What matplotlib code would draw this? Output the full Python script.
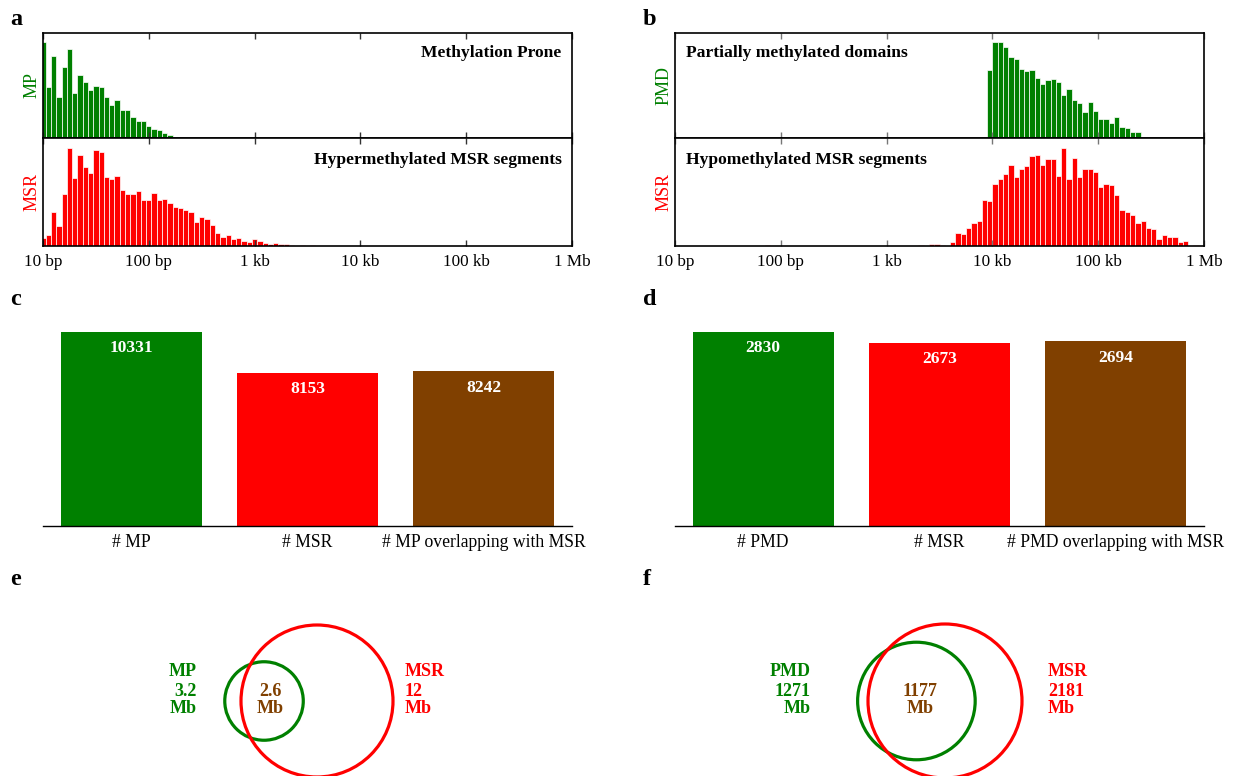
import numpy as np
import matplotlib.pyplot as plt
from matplotlib.patches import Circle

plt.rcParams['font.family'] = ['Liberation Serif', 'DejaVu Serif']

GREEN = '#008000'
RED = '#ff0000'
BROWN = '#804000'

# histogram bins: width 0.05 in log10(length), first left edge given per series
BIN = 0.05
mp_start = 0.975
mp_counts = [290, 152, 247, 122, 214, 268, 136, 190, 169, 145, 157, 152, 124, 100,
             115, 85, 85, 64, 52, 52, 37, 28, 25, 16, 10, 4, 2, 1]
hyper_start = 0.975
hyper_counts = [24, 33, 102, 60, 156, 291, 201, 270, 234, 216, 285, 279, 204, 198,
                207, 165, 156, 156, 162, 138, 138, 159, 138, 141, 129, 117, 114, 108,
                102, 72, 87, 81, 63, 39, 27, 33, 21, 24, 15, 12, 21, 15, 9, 6, 9, 6, 6,
                3, 1, 3, 1, 2, 1, 1, 1, 0, 1, 1, 0, 1, 1]
pmd_start = 3.95
pmd_counts = [205, 290, 290, 274, 244, 238, 208, 202, 205, 181, 163, 175, 178, 169,
              130, 148, 115, 106, 79, 109, 82, 58, 58, 46, 64, 34, 31, 17, 17, 4, 3, 2, 4]
hypo_start = 3.30
hypo_counts = [2, 0, 6, 6, 3, 0, 12, 39, 36, 54, 69, 75, 138, 135,
               183, 198, 213, 240, 204, 228, 237, 267, 270, 240, 258, 258, 207, 291,
               198, 261, 204, 228, 228, 219, 174, 183, 180, 153, 108, 102, 93, 69, 75,
               54, 51, 21, 33, 27, 27, 12, 15, 0, 3]
hypo_stray_start = 1.85
hypo_stray_counts = [3]

size_ticks = [10, 100, 1e3, 1e4, 1e5, 1e6]
size_labels = ['10 bp', '100 bp', '1 kb', '10 kb', '100 kb', '1 Mb']

c_labels = ['# MP', '# MSR', '# MP overlapping with MSR']
c_values = [10331, 8153, 8242]
d_labels = ['# PMD', '# MSR', '# PMD overlapping with MSR']
d_values = [2830, 2673, 2694]

# venn: (left set, right set, overlap) in Mb
e_sets = ['MP', 'MSR']
e_sizes = [3.2, 12, 2.6]
e_text = ['3.2', '12', '2.6']
f_sets = ['PMD', 'MSR']
f_sizes = [1271, 2181, 1177]
f_text = ['1271', '2181', '1177']

W, H = 1233, 776
fig = plt.figure(figsize=(W / 100, H / 100), dpi=100)


def axes_px(x0, y0, x1, y1):
    return fig.add_axes([x0 / W, 1 - y1 / H, (x1 - x0) / W, (y1 - y0) / H])


def hist(ax, start, counts, color, ytop, tick_color):
    left = start + BIN * np.arange(len(counts))
    x0 = 10 ** left
    x1 = 10 ** (left + BIN)
    ax.bar(x0, counts, width=x1 - x0, align='edge', color=color,
           edgecolor='white', linewidth=0.5)
    ax.set_xscale('log')
    ax.set_xlim(10, 1e6)
    ax.set_ylim(0, ytop)
    ax.set_yticks([])
    ax.set_xticks(size_ticks)
    ax.minorticks_off()
    ax.tick_params(axis='x', direction='in', top=True, bottom=True, length=4,
                   width=1, color=tick_color, labelbottom=False)
    for s in ax.spines.values():
        s.set_linewidth(1.2)


def hist_pair(x0, x1, top, bottom, top_lab, bot_lab, top_title, bot_title, right, tick_color):
    ax_t = axes_px(x0, 33, x1, 138)
    ax_b = axes_px(x0, 138, x1, 246)
    hist(ax_t, *top, GREEN, 316, tick_color)
    for st, cn in bottom:
        hist(ax_b, st, cn, RED, 321, tick_color)
    ax_b.tick_params(axis='x', labelbottom=True, labelsize=12.3, pad=6)
    ax_b.set_xticklabels(size_labels)
    ax_t.set_ylabel(top_lab, color=GREEN, fontsize=13, labelpad=2)
    ax_b.set_ylabel(bot_lab, color=RED, fontsize=13, labelpad=2)
    xt, ha = (0.98, 'right') if right else (0.02, 'left')
    ax_t.text(xt, 0.81, top_title, transform=ax_t.transAxes, ha=ha, va='center',
              fontsize=12.6, fontweight='bold')
    ax_b.text(xt, 0.80, bot_title, transform=ax_b.transAxes, ha=ha, va='center',
              fontsize=12.6, fontweight='bold')


hist_pair(43, 572, (mp_start, mp_counts), [(hyper_start, hyper_counts)], 'MP', 'MSR',
          'Methylation Prone', 'Hypermethylated MSR segments', True, '#333333')
hist_pair(675, 1204, (pmd_start, pmd_counts),
          [(hypo_start, hypo_counts), (hypo_stray_start, hypo_stray_counts)],
          'PMD', 'MSR', 'Partially methylated domains', 'Hypomethylated MSR segments',
          False, '#777777')


def count_bars(x0, x1, labels, values):
    ax = axes_px(x0, 320, x1, 526)
    ax.bar(range(3), values, width=0.8, color=[GREEN, RED, BROWN])
    ax.set_xlim(-0.5, 2.5)
    ax.set_ylim(0, values[0] * 206 / 194)
    for s in ['top', 'left', 'right']:
        ax.spines[s].set_visible(False)
    ax.spines['bottom'].set_linewidth(1.0)
    ax.set_yticks([])
    ax.set_xticks(range(3), labels, fontsize=12.7)
    ax.tick_params(axis='x', length=0, pad=6)
    for i, v in enumerate(values):
        ax.annotate(str(v), (i, v), xytext=(0, -6), textcoords='offset points',
                    ha='center', va='top', color='white', fontweight='bold', fontsize=12.5)


count_bars(43, 572, c_labels, c_values)
count_bars(675, 1204, d_labels, d_values)

# overlay in pixel coordinates for venn diagrams and panel letters
ov = fig.add_axes([0, 0, 1, 1])
ov.set_xlim(0, W)
ov.set_ylim(H, 0)
ov.axis('off')


def overlap(r1, r2, d):
    a1 = r1 ** 2 * np.arccos((d * d + r1 * r1 - r2 * r2) / (2 * d * r1))
    a2 = r2 ** 2 * np.arccos((d * d + r2 * r2 - r1 * r1) / (2 * d * r2))
    a3 = 0.5 * np.sqrt((-d + r1 + r2) * (d + r1 - r2) * (d - r1 + r2) * (d + r1 + r2))
    return a1 + a2 - a3


def venn(sets, sizes, texts, cx, cy, R, lx, mx, rx):
    k = R / np.sqrt(sizes[1])
    r = k * np.sqrt(sizes[0])
    target = np.pi * k * k * sizes[2]
    lo, hi = abs(R - r) + 1e-6, R + r - 1e-6
    for _ in range(80):
        mid = (lo + hi) / 2
        if overlap(r, R, mid) > target:
            lo = mid
        else:
            hi = mid
    d = (lo + hi) / 2
    ov.add_patch(Circle((cx - d, cy), r, fill=False, ec=GREEN, lw=2.3, clip_on=False))
    ov.add_patch(Circle((cx, cy), R, fill=False, ec=RED, lw=2.3, clip_on=False))
    kw = dict(fontsize=13, fontweight='bold', linespacing=1.0)
    ov.text(lx, 671, sets[0], color=GREEN, ha='right', va='center', **kw)
    ov.text(lx, 700, texts[0] + '\nMb', color=GREEN, ha='right', va='center', **kw)
    ov.text(mx, 700, texts[2] + '\nMb', color=BROWN, ha='center', va='center', **kw)
    ov.text(rx, 671, sets[1], color=RED, ha='left', va='center', **kw)
    ov.text(rx, 700, texts[1] + '\nMb', color=RED, ha='left', va='center', **kw)


venn(e_sets, e_sizes, e_text, 317, 701, 76, 197, 270, 405)
venn(f_sets, f_sizes, f_text, 945, 701, 77, 811, 920, 1048)

for lab, x, y in [('a', 10, 9), ('b', 643, 9), ('c', 10, 289), ('d', 643, 289),
                  ('e', 10, 569), ('f', 643, 569)]:
    ov.text(x, y, lab, ha='left', va='top', fontsize=17.5, fontweight='bold')

fig.savefig('out.png', dpi=100)
